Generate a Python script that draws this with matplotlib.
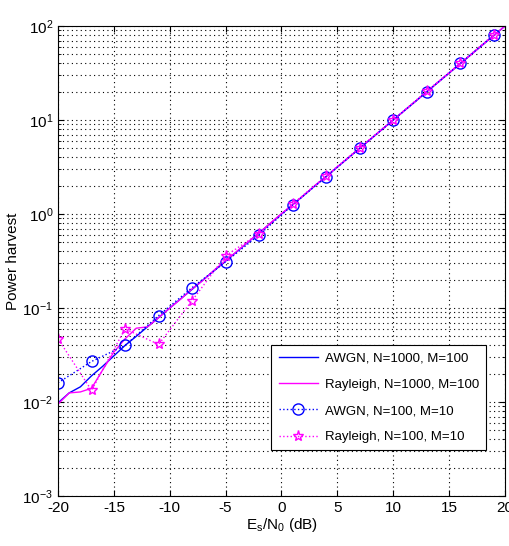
import numpy as np
import matplotlib
matplotlib.use("Agg")
import matplotlib.pyplot as plt
from matplotlib.ticker import LogLocator, NullFormatter, MultipleLocator

# data
snr_fine = list(range(-20, 21))
awgn_big = [0.0098, 0.0125, 0.0145, 0.019, 0.024, 0.031, 0.040, 0.050, 0.063, 0.079,
            0.100, 0.126, 0.158, 0.200, 0.251, 0.316, 0.398, 0.501, 0.631, 0.794,
            1.00, 1.26, 1.58, 2.00, 2.51, 3.16, 3.98, 5.01, 6.31, 7.94,
            10.0, 12.6, 15.8, 20.0, 25.1, 31.6, 39.8, 50.1, 63.1, 79.4, 100.0]
rayl_big = [0.0095, 0.0125, 0.0128, 0.0140, 0.022, 0.034, 0.047, 0.061, 0.063, 0.079,
            0.100, 0.125, 0.160, 0.198, 0.255, 0.318, 0.400, 0.505, 0.628, 0.800,
            1.01, 1.25, 1.59, 2.01, 2.50, 3.18, 3.97, 5.03, 6.30, 7.96,
            10.0, 12.6, 15.9, 20.0, 25.2, 31.6, 39.9, 50.0, 63.2, 79.5, 100.0]

snr_coarse = [-20, -17, -14, -11, -8, -5, -2, 1, 4, 7, 10, 13, 16, 19]
awgn_small = [0.016, 0.027, 0.040, 0.083, 0.165, 0.31, 0.60, 1.25, 2.5, 5.0, 10.0, 20.0, 40.0, 80.0]
rayl_small = [0.047, 0.0133, 0.060, 0.041, 0.12, 0.36, 0.62, 1.28, 2.55, 5.1, 10.1, 20.3, 40.5, 81.0]

labels = ["AWGN, N=1000, M=100", "Rayleigh, N=1000, M=100",
          "AWGN, N=100, M=10", "Rayleigh, N=100, M=10"]

plt.rcParams['font.family'] = ['Liberation Sans', 'DejaVu Sans']
plt.rcParams['mathtext.fontset'] = 'custom'
plt.rcParams['mathtext.rm'] = 'Liberation Sans'
plt.rcParams['mathtext.it'] = 'Liberation Sans'
plt.rcParams['axes.unicode_minus'] = False
plt.rcParams['font.size'] = 10

fig = plt.figure(figsize=(5.09, 5.46), dpi=100)
ax = fig.add_axes([0.114, 0.0916, 0.878, 0.8606])

ax.semilogy(snr_fine, awgn_big, '-', color='#0000ff', lw=1.0, label=labels[0])
ax.semilogy(snr_fine, rayl_big, '-', color='#ff00ff', lw=1.0, label=labels[1])
ax.semilogy(snr_coarse, awgn_small, ':', color='#0000ff', lw=1.0, marker='o',
            ms=8, mfc='none', mec='#0000ff', label=labels[2])
ax.semilogy(snr_coarse, rayl_small, ':', color='#ff00ff', lw=1.0, marker='*',
            ms=8, mfc='none', mec='#ff00ff', label=labels[3])

ax.set_xlim(-20, 20)
ax.set_ylim(1e-3, 1e2)
ax.xaxis.set_major_locator(MultipleLocator(5))
ax.yaxis.set_major_locator(LogLocator(base=10, numticks=10))
ax.yaxis.set_minor_locator(LogLocator(base=10, subs=np.arange(2, 10), numticks=20))
ax.yaxis.set_minor_formatter(NullFormatter())

ax.grid(True, which='major', color='k', ls=(0, (1, 3)), lw=0.8)
ax.grid(True, which='minor', axis='y', color='k', ls=(0, (1, 3)), lw=0.8)
ax.tick_params(which='both', direction='in', top=True, right=True)
ax.tick_params(which='major', length=4, labelsize=11)
ax.tick_params(which='minor', length=2)
for s in ax.spines.values():
    s.set_linewidth(0.8)

ax.set_xlabel('E$_s$/N$_0$ (dB)', labelpad=1, fontsize=11)
ax.set_ylabel('Power harvest', labelpad=2, fontsize=11)

leg = ax.legend(loc='lower right', bbox_to_anchor=(0.973, 0.083), fancybox=False,
                framealpha=1, edgecolor='k', borderpad=0.55, handlelength=3.0,
                handletextpad=0.5, labelspacing=1.05, fontsize=9.5)
leg.get_frame().set_linewidth(0.8)

fig.savefig('out.png', dpi=100)
